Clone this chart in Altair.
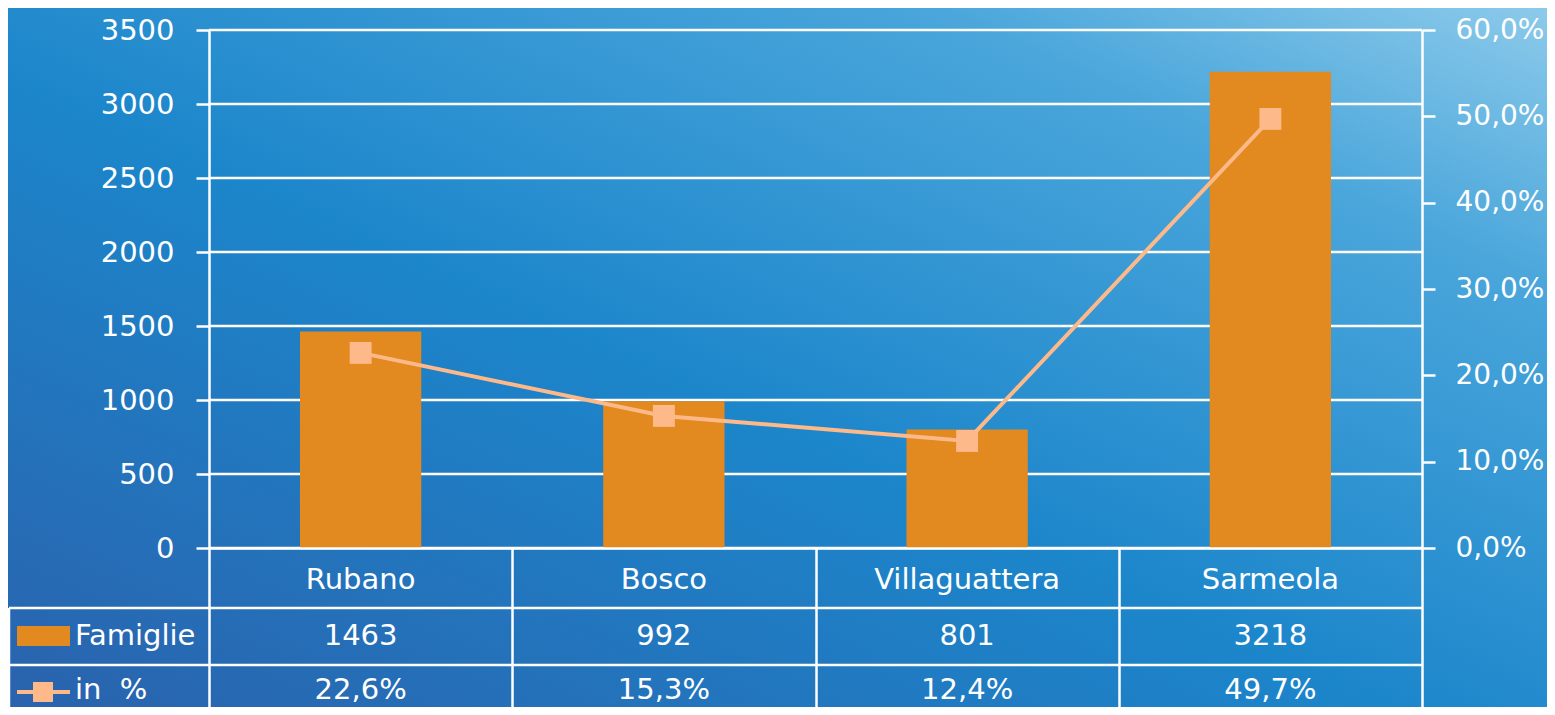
import altair as alt
import pandas as pd

categories = ["Rubano", "Bosco", "Villaguattera", "Sarmeola"]
famiglie = [1463, 992, 801, 3218]
percent = [22.6, 15.3, 12.4, 49.7]
row_labels = ["Famiglie", "in\u00a0\u00a0%"]
left_ticks = [0, 500, 1000, 1500, 2000, 2500, 3000, 3500]
right_ticks = [0, 0.1, 0.2, 0.3, 0.4, 0.5, 0.6]

df = pd.DataFrame({
    "cat": categories,
    "fam": famiglie,
    "pct": [p / 100 for p in percent],
    "fam_label": [str(v) for v in famiglie],
    "pct_label": [f"{p:.1f}%".replace(".", ",") for p in percent],
})
grid_df = pd.DataFrame({"fam": left_ticks})

FONT = "DejaVu Sans"
FS = 29
W, H = 1213, 518
BAR = "#E2891F"
LINE = "#FDB98A"
LW = 2.5

one = pd.DataFrame({"a": [0]})

bg = alt.Chart(one).mark_rect(
    fill=alt.LinearGradient(
        gradient="linear",
        stops=[
            alt.GradientStop(offset=0, color="#2a62ad"),
            alt.GradientStop(offset=0.45, color="#1c86cb"),
            alt.GradientStop(offset=0.8, color="#4aa6db"),
            alt.GradientStop(offset=1, color="#8ccaea"),
        ],
        x1=0, y1=1, x2=1, y2=0,
    )
).encode(x=alt.value(-201), x2=alt.value(1338), y=alt.value(-22), y2=alt.value(677))

x_axis = alt.X(
    "cat:N", sort=categories,
    scale=alt.Scale(paddingInner=0, paddingOuter=0),
    axis=alt.Axis(labels=False, title=None, domain=True, domainColor="white",
                  domainWidth=LW, ticks=True, tickBand="extent", tickSize=167,
                  tickColor="white", tickWidth=LW, grid=False, zindex=1),
)
x_plain = alt.X("cat:N", sort=categories)

y_fam = alt.Y("fam:Q", scale=alt.Scale(domain=[0, 3500], nice=False),
              axis=alt.Axis(orient="left", values=left_ticks, title=None, format="d",
                            grid=False, zindex=1,
                            domainColor="white", domainWidth=LW,
                            tickColor="white", tickWidth=LW, tickSize=13,
                            labelColor="white", labelFont=FONT, labelFontSize=FS,
                            labelAlign="right", labelPadding=22))

grid = alt.Chart(grid_df).mark_rule(color="white", strokeWidth=LW).encode(
    y=y_fam, x=alt.value(0), x2=alt.value(W))
bars = alt.Chart(df).mark_bar(color=BAR, width=alt.RelativeBandSize(0.4)).encode(
    x=x_axis, y=alt.Y("fam:Q"))
bar_layer = alt.layer(grid, bars)

y_pct = alt.Y("pct:Q", scale=alt.Scale(domain=[0, 0.6], nice=False),
              axis=alt.Axis(orient="right", values=right_ticks, title=None, zindex=1,
                            labelExpr="replace(format(datum.value, '.1%'), '.', ',')",
                            grid=False, domainColor="white", domainWidth=LW,
                            tickColor="white", tickWidth=LW, tickSize=13,
                            labelColor="white", labelFont=FONT, labelFontSize=28,
                            labelAlign="left", labelPadding=20))

line = alt.Chart(df).mark_line(color=LINE, strokeWidth=4).encode(x=x_plain, y=y_pct)
pts = alt.Chart(df).mark_point(shape="square", filled=True, size=480, color=LINE, opacity=1).encode(
    x=x_plain, y=alt.Y("pct:Q"))
line_layer = alt.layer(line, pts)

txt = dict(color="white", font=FONT, fontSize=FS, baseline="middle")
cat_text = alt.Chart(df).mark_text(**txt).encode(x=x_plain, y=alt.value(550), text="cat:N")
fam_text = alt.Chart(df).mark_text(**txt).encode(x=x_plain, y=alt.value(606), text="fam_label:N")
pct_text = alt.Chart(df).mark_text(**txt).encode(x=x_plain, y=alt.value(660), text="pct_label:N")

lab1 = alt.Chart(pd.DataFrame({"t": [row_labels[0]]})).mark_text(align="left", **txt).encode(
    x=alt.value(-134), y=alt.value(606), text="t:N")
lab2 = alt.Chart(pd.DataFrame({"t": [row_labels[1]]})).mark_text(align="left", **txt).encode(
    x=alt.value(-134), y=alt.value(660), text="t:N")

rule1 = alt.Chart(one).mark_rule(color="white", strokeWidth=LW).encode(
    x=alt.value(-200), x2=alt.value(W), y=alt.value(578))
rule2 = alt.Chart(one).mark_rule(color="white", strokeWidth=LW).encode(
    x=alt.value(-200), x2=alt.value(W), y=alt.value(635))
rule3 = alt.Chart(one).mark_rule(color="white", strokeWidth=LW).encode(
    x=alt.value(-200), y=alt.value(578), y2=alt.value(700))

sw_bar = alt.Chart(one).mark_rect(color=BAR).encode(
    x=alt.value(-192), x2=alt.value(-139), y=alt.value(596), y2=alt.value(616))
sw_line = alt.Chart(one).mark_rule(color=LINE, strokeWidth=4).encode(
    x=alt.value(-192), x2=alt.value(-139), y=alt.value(662))
sw_pt = alt.Chart(one).mark_point(shape="square", filled=True, size=400, color=LINE, opacity=1).encode(
    x=alt.value(-166), y=alt.value(662))

chart = alt.layer(
    bg, bar_layer, line_layer, cat_text, fam_text, pct_text, lab1, lab2,
    rule1, rule2, rule3, sw_bar, sw_line, sw_pt,
).resolve_scale(y="independent").properties(
    width=W, height=H, autosize="none",
    padding={"left": 201, "top": 22, "right": 125, "bottom": 159},
    background="#2a7fc2",
).configure_view(stroke=None)

chart.save("out.html", embed_options={"renderer": "svg", "actions": False})
